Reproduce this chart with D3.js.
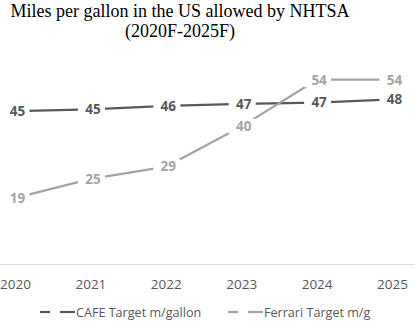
<!DOCTYPE html>
<html>
<head>
<meta charset="utf-8">
<script src="https://cdn.jsdelivr.net/npm/d3@7"></script>
<style>
  html, body { margin: 0; padding: 0; background: #fff; }
  svg { display: block; }
</style>
</head>
<body>
<svg id="chart" width="415" height="323"></svg>
<script>
// ---- data ----
const years = ["2020", "2021", "2022", "2023", "2024", "2025"];
const cafeValues = [44.9, 45.4, 46.4, 47.0, 47.4, 48.3];
const ferrariValues = [19.4, 25.0, 28.6, 40.4, 54.1, 54.1];
const seriesNames = ["CAFE Target m/gallon", "Ferrari Target m/g"];
const titleLines = ["Miles per gallon in the US allowed by NHTSA", "(2020F-2025F)"];

const colors = ["#595959", "#a5a5a5"];
const series = [cafeValues, ferrariValues];

const svg = d3.select("#chart");

// title
svg.append("g").selectAll("text").data(titleLines).join("text")
  .attr("x", 180).attr("y", (d, i) => 17 + i * 20)
  .attr("text-anchor", "middle")
  .style("font-family", "'Liberation Serif', 'Times New Roman', serif")
  .style("font-size", "18px").style("fill", "#000")
  .text(d => d);

const x = d3.scaleBand().domain(years).range([-22.2, 430.2]);
const y = d3.scaleLinear().domain([0, 60]).range([264, 59.6]);
const cx = d => x(d) + x.bandwidth() / 2;

// x axis
const axis = svg.append("g").attr("transform", "translate(0,264)")
  .call(d3.axisBottom(x).tickSize(0).tickPadding(0));
axis.select(".domain").attr("stroke", "#d9d9d9").attr("stroke-width", 1);
axis.selectAll(".tick text")
  .attr("dy", 0).attr("y", 25.3)
  .style("font-family", "'Open Sans', sans-serif")
  .style("font-size", "13.5px").style("fill", "#595959");

// lines
const line = d3.line().x((d, i) => cx(years[i])).y(d => y(d));
svg.append("g").selectAll("path").data(series).join("path")
  .attr("d", d => line(d))
  .attr("fill", "none")
  .attr("stroke", (d, i) => colors[i])
  .attr("stroke-width", 2.25);

// labels
series.forEach((vals, si) => {
  const g = svg.append("g");
  const lab = g.selectAll("g").data(vals).join("g")
    .attr("transform", (d, i) => `translate(${cx(years[i])},${y(d)})`);
  lab.append("rect")
    .attr("x", -13).attr("y", -7.5).attr("width", 27).attr("height", 15)
    .attr("fill", "#fff");
  lab.append("text")
    .attr("x", 2).attr("y", 4.8)
    .attr("text-anchor", "middle")
    .style("font-family", "'Open Sans', sans-serif")
    .style("font-size", "13.5px").style("font-weight", "bold")
    .style("fill", colors[si])
    .text(d => d3.format(".0f")(d));
});

// legend
const legendX = [40, 228];
const leg = svg.append("g").selectAll("g").data(seriesNames).join("g")
  .attr("transform", (d, i) => `translate(${legendX[i]},312)`);
leg.append("line").attr("x1", 0).attr("x2", 10).attr("y1", 0).attr("y2", 0)
  .attr("stroke", (d, i) => colors[i]).attr("stroke-width", 2.25);
leg.append("line").attr("x1", 20).attr("x2", 35).attr("y1", 0).attr("y2", 0)
  .attr("stroke", (d, i) => colors[i]).attr("stroke-width", 2.25);
leg.append("text").attr("x", 36).attr("y", 4.8)
  .style("font-family", "'Open Sans', sans-serif")
  .style("font-size", "12.6px").style("fill", "#595959")
  .text(d => d);
</script>
</body>
</html>
